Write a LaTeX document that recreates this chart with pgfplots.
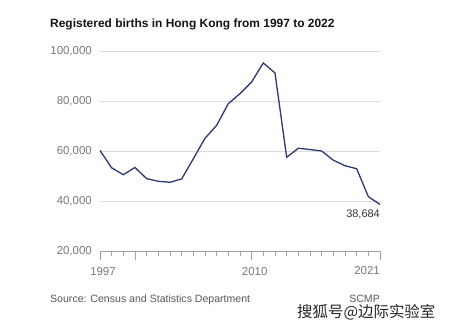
\documentclass[border=0pt]{standalone}
\usepackage{pgfplots}
\pgfplotsset{compat=1.18}
\usepackage{fontspec}
\setmainfont{Liberation Sans}
\newfontfamily\cjk{Noto Sans CJK SC}
\definecolor{navy}{HTML}{2B3A72}
\definecolor{tickgray}{HTML}{7A7A7A}
\definecolor{gridgray}{HTML}{DCDCDC}
\definecolor{axisgray}{HTML}{A0A0A0}
\begin{document}
\begin{tikzpicture}
\useasboundingbox[fill=white] (-100bp,-78bp) rectangle (352bp,251bp);
\begin{axis}[
  at={(0,0)}, anchor=south west,
  scale only axis, width=280bp, height=199.5bp,
  xmin=1997, xmax=2021, ymin=20000, ymax=100000,
  clip=false,
  axis line style={draw=none},
  scaled y ticks=false,
  tick pos=lower,
  ytick={20000,40000,60000,80000,100000},
  yticklabels={{20,000},{40,000},{60,000},{80,000},{100,000}},
  ymajorgrids, grid style={color=gridgray, line width=0.8bp},
  major y tick style={draw=none},
  yticklabel style={anchor=east, inner sep=0pt, xshift=-8bp, text=tickgray,
    font=\fontsize{11.5}{12}\selectfont},
  xtick={1997,2000,2010,2021},
  xticklabels={1997,{},2010,{}},
  minor xtick={1998,1999,2001,2002,2003,2004,2005,2006,2007,2008,2009,2011,2012,2013,2014,2015,2016,2017,2018,2019,2020},
  xtick align=outside,
  major x tick style={draw=axisgray, line width=0.8bp},
  minor x tick style={draw=axisgray, line width=0.8bp},
  major tick length=9bp, minor tick length=5bp,
  xticklabel style={text=tickgray, inner sep=0pt, yshift=-7bp, xshift=3bp,
    font=\fontsize{11.5}{12}\selectfont},
]
\draw[axisgray, line width=0.8bp] (axis cs:1997,20000) -- (axis cs:2021,20000);
\addplot[navy, line width=1.3bp, mark=none] coordinates {
(1997,60300) (1998,53350) (1999,50600) (2000,53500) (2001,49000)
(2002,47950) (2003,47550) (2004,48900) (2005,57000) (2006,65200)
(2007,70400) (2008,79100) (2009,83100) (2010,87800) (2011,95400)
(2012,91400) (2013,57600) (2014,61200) (2015,60700) (2016,60100)
(2017,56400) (2018,54200) (2019,53000) (2020,41800) (2021,38684)
};
\node[anchor=north east, inner sep=0pt, text=black!80, font=\fontsize{11}{12}\selectfont] at (axis cs:2021,36600) {38,684};
\node[anchor=north east, inner sep=0pt, text=tickgray, font=\fontsize{11.5}{12}\selectfont] at (axis cs:2021,13800) {2021};
\end{axis}
\node[anchor=base west, inner sep=0pt, font=\fontsize{12}{13}\selectfont\bfseries, text=black!92] at (-50bp,223bp) {Registered births in Hong Kong from 1997 to 2022};
\node[anchor=base west, inner sep=0pt, font=\fontsize{10.6}{12}\selectfont, text=black!65] at (-50bp,-51bp) {Source: Census and Statistics Department};
\node[anchor=base east, inner sep=0pt, font=\fontsize{10.6}{12}\selectfont, text=black!65] at (280bp,-51bp) {SCMP};
\node[anchor=base west, inner sep=0pt, font=\cjk\fontsize{15.5}{17}\selectfont, text=black!85] at (197bp,-66bp) {搜狐号@边际实验室};
\end{tikzpicture}
\end{document}
